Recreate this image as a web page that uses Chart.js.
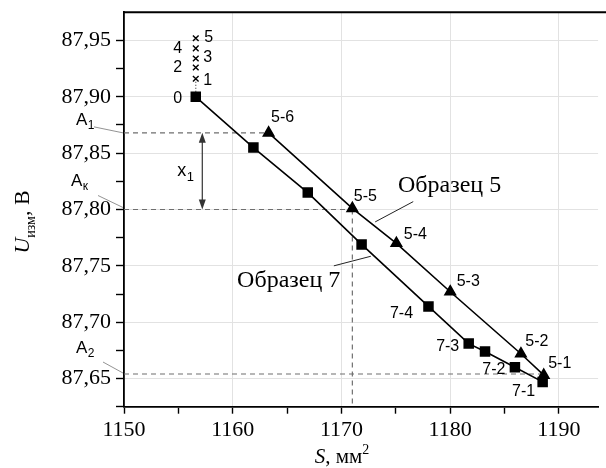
<!DOCTYPE html>
<html>
<head>
<meta charset="utf-8">
<script src="https://cdn.jsdelivr.net/npm/chart.js@4.4.0/dist/chart.umd.min.js"></script>
<style>
  html, body { margin: 0; padding: 0; background: #fff; }
  #wrap { width: 606px; height: 468px; }
</style>
</head>
<body>
<div id="wrap"><canvas id="chart" width="606" height="468"></canvas></div>
<script>
// Образец 7 (squares)
var s7x = [1156.6, 1161.9, 1166.9, 1171.85, 1178.0, 1181.7, 1183.2, 1185.95, 1188.5];
var s7y = [87.900, 87.855, 87.815, 87.769, 87.714, 87.681, 87.674, 87.660, 87.647];
var s7labels = ['0', '', '', '', '7-4', '7-3', '', '7-2', '7-1'];

// Образец 5 (triangles)
var s5x = [1163.3, 1171.0, 1175.05, 1180.0, 1186.5, 1188.6];
var s5y = [87.868, 87.801, 87.770, 87.727, 87.672, 87.653];
var s5labels = ['5-6', '5-5', '5-4', '5-3', '5-2', '5-1'];

// crosses 1..5
var crossX = [1156.6, 1156.6, 1156.6, 1156.6, 1156.6];
var crossY = [87.916, 87.926, 87.934, 87.943, 87.952];
var crossLabels = ['1', '2', '3', '4', '5'];

// reference levels
var levelA1 = 87.868;
var levelAk = 87.80;
var levelA2 = 87.654;
var sK = 1171.0;
var arrowX = 1157.2;

// axes
var xMajor = [1150, 1160, 1170, 1180, 1190];
var yMajor = [87.65, 87.70, 87.75, 87.80, 87.85, 87.90, 87.95];
var xMin = 1150, xMax = 1193.6, yMin = 87.625, yMax = 87.975;

// label offsets (px) relative to the marker
var s7off = [[-18, 2], null, null, null, [-27, 7], [-21, 3], null, [-21, 2], [-19, 10]];
var s5off = [[14, -15], [13, -12], [19, -9], [18, -10], [16, -12], [16, -12]];
var crossOff = [[12, 2], [-18, 0], [12, -1], [-18, 0], [13, -1]];

var SERIF = "'Liberation Serif', 'Times New Roman', serif";
var SANS = "'Liberation Sans', Arial, sans-serif";

var pts = function (xs, ys) {
  return xs.map(function (x, i) { return { x: x, y: ys[i] }; });
};
var isMajor = function (list, v) {
  return list.some(function (m) { return Math.abs(m - v) < 1e-6; });
};
// majors plus the half-way minor ticks, kept inside [lo, hi]
var withMinors = function (list, half, lo, hi) {
  var out = [];
  list.forEach(function (m) { out.push(m - half, m, m + half); });
  out = out.filter(function (v) { return v >= lo - 1e-9 && v <= hi + 1e-9; });
  out.sort(function (a, b) { return a - b; });
  return out.filter(function (v, i) { return i === 0 || Math.abs(v - out[i - 1]) > 1e-9; });
};

var dash = { showLine: true, borderColor: '#6f6f6f', borderWidth: 1.2, borderDash: [5, 4], pointRadius: 0 };

var annotations = {
  id: 'annotations',
  afterDatasetsDraw: function (chart) {
    var ctx = chart.ctx;
    var xs = chart.scales.x, ys = chart.scales.y;
    var area = chart.chartArea;
    var px = function (x) { return xs.getPixelForValue(x); };
    var py = function (y) { return ys.getPixelForValue(y); };

    ctx.save();
    // top frame line
    ctx.strokeStyle = '#000';
    ctx.lineWidth = 2;
    ctx.beginPath();
    ctx.moveTo(area.left, area.top);
    ctx.lineTo(chart.width, area.top);
    ctx.stroke();

    // point labels
    ctx.fillStyle = '#000';
    ctx.font = '16px ' + SANS;
    ctx.textAlign = 'center';
    ctx.textBaseline = 'middle';
    var drawLabels = function (idx, labels, offs) {
      var meta = chart.getDatasetMeta(idx);
      labels.forEach(function (t, i) {
        if (!t || !offs[i]) return;
        var el = meta.data[i];
        ctx.fillText(t, el.x + offs[i][0], el.y + offs[i][1]);
      });
    };
    drawLabels(0, s5labels, s5off);
    drawLabels(1, s7labels, s7off);
    drawLabels(2, crossLabels, crossOff);

    // double arrow x1
    var ax = px(arrowX), y1 = py(levelA1), y2 = py(levelAk);
    ctx.strokeStyle = '#333';
    ctx.fillStyle = '#333';
    ctx.lineWidth = 1.2;
    ctx.beginPath();
    ctx.moveTo(ax, y1 + 6);
    ctx.lineTo(ax, y2 - 6);
    ctx.stroke();
    ctx.beginPath();
    ctx.moveTo(ax, y1); ctx.lineTo(ax - 3.5, y1 + 10); ctx.lineTo(ax + 3.5, y1 + 10); ctx.closePath();
    ctx.fill();
    ctx.beginPath();
    ctx.moveTo(ax, y2); ctx.lineTo(ax - 3.5, y2 - 10); ctx.lineTo(ax + 3.5, y2 - 10); ctx.closePath();
    ctx.fill();

    // text with subscript
    var subText = function (base, sub, x, y, size, subSize, family, drop) {
      ctx.textAlign = 'left';
      ctx.textBaseline = 'alphabetic';
      ctx.font = size + 'px ' + family;
      ctx.fillText(base, x, y);
      var w = ctx.measureText(base).width;
      ctx.font = subSize + 'px ' + family;
      ctx.fillText(sub, x + w + 0.5, y + drop);
    };
    ctx.fillStyle = '#000';
    subText('x', '1', ax - 25, (y1 + y2) / 2 + 5, 18, 13, SANS, 5);

    // A labels with leader lines
    ctx.strokeStyle = '#777';
    ctx.lineWidth = 0.8;
    var leader = function (x0, y0, x1, y1b) {
      ctx.beginPath();
      ctx.moveTo(x0, y0);
      ctx.lineTo(x1, y1b);
      ctx.stroke();
    };
    leader(94, py(levelA1) - 6, area.left - 1, py(levelA1));
    leader(98, py(levelAk) - 14, area.left - 1, py(levelAk) - 2);
    leader(103, py(levelA2) - 12, area.left - 1, py(levelA2) - 1);
    ctx.fillStyle = '#000';
    subText('A', '1', 76, py(levelA1) - 8, 17, 12, SANS, 4);
    subText('A', 'к', 71, py(levelAk) - 24, 17, 12, SANS, 4);
    subText('A', '2', 76, py(levelA2) - 21, 17, 12, SANS, 4);

    // sample names with leaders
    ctx.strokeStyle = '#222';
    ctx.lineWidth = 1;
    leader(px(1176.6), py(87.807), px(1173.1), py(87.789));
    leader(px(1169.3), py(87.750), px(1172.7), py(87.7585));
    ctx.font = '24px ' + SERIF;
    ctx.textAlign = 'left';
    ctx.textBaseline = 'middle';
    ctx.fillText('Образец 5', px(1175.2), py(87.8215));
    ctx.fillText('Образец 7', px(1160.4), py(87.737));
    ctx.restore();
  },
  afterDraw: function (chart) {
    var ctx = chart.ctx;
    ctx.save();
    ctx.fillStyle = '#000';
    ctx.textBaseline = 'alphabetic';
    ctx.textAlign = 'left';

    // y title: U_изм, В
    ctx.translate(29, 222);
    ctx.rotate(-Math.PI / 2);
    var parts = [
      { t: 'U', f: 'italic 22px ' + SERIF, dy: 0 },
      { t: 'изм', f: '14px ' + SERIF, dy: 6 },
      { t: ', В', f: '22px ' + SERIF, dy: 0 }
    ];
    var total = 0;
    parts.forEach(function (p) { ctx.font = p.f; p.w = ctx.measureText(p.t).width; total += p.w; });
    var x = -total / 2;
    parts.forEach(function (p) { ctx.font = p.f; ctx.fillText(p.t, x, p.dy); x += p.w; });
    ctx.setTransform(1, 0, 0, 1, 0, 0);

    // x title: S, мм²
    var xp = [
      { t: 'S', f: 'italic 21px ' + SERIF, dy: 0 },
      { t: ', мм', f: '21px ' + SERIF, dy: 0 },
      { t: '2', f: '14px ' + SERIF, dy: -9 }
    ];
    total = 0;
    xp.forEach(function (p) { ctx.font = p.f; p.w = ctx.measureText(p.t).width; total += p.w; });
    x = 342 - total / 2;
    xp.forEach(function (p) { ctx.font = p.f; ctx.fillText(p.t, x, 463 + p.dy); x += p.w; });
    ctx.restore();
  }
};

new Chart(document.getElementById('chart').getContext('2d'), {
  type: 'scatter',
  data: {
    datasets: [
      {
        data: pts(s5x, s5y), showLine: true, borderColor: '#000', borderWidth: 1.6,
        pointStyle: 'triangle', pointRadius: 6, pointBackgroundColor: '#000', pointBorderColor: '#000'
      },
      {
        data: pts(s7x, s7y), showLine: true, borderColor: '#000', borderWidth: 1.6,
        pointStyle: 'rect', pointRadius: 6.3, pointBackgroundColor: '#000', pointBorderColor: '#000'
      },
      {
        data: pts(crossX, crossY), showLine: false,
        pointStyle: 'crossRot', pointRadius: 4, pointBorderWidth: 1.4, pointBorderColor: '#000'
      },
      Object.assign({}, dash, { data: [{ x: crossX[0], y: crossY[0] }, { x: s7x[0], y: s7y[0] }], borderDash: [1, 2], borderColor: '#444' }),
      Object.assign({}, dash, { data: [{ x: xMin, y: levelA1 }, { x: s5x[0], y: levelA1 }] }),
      Object.assign({}, dash, { data: [{ x: xMin, y: levelAk }, { x: s5x[1], y: levelAk }] }),
      Object.assign({}, dash, { data: [{ x: xMin, y: levelA2 }, { x: s5x[5], y: levelA2 }] }),
      Object.assign({}, dash, { data: [{ x: sK, y: levelAk }, { x: sK, y: yMin }] })
    ]
  },
  options: {
    responsive: false,
    animation: false,
    layout: { padding: { top: 12.3, right: 0, left: 0, bottom: 0 } },
    plugins: { legend: { display: false }, tooltip: { enabled: false } },
    scales: {
      x: {
        type: 'linear', min: xMin, max: xMax,
        afterBuildTicks: function (s) {
          s.ticks = withMinors(xMajor, 5, xMin, xMax).map(function (v) { return { value: v }; });
        },
        afterFit: function (s) { s.height = 61.3; s.paddingLeft = 0; s.paddingRight = 0; },
        border: { display: true, color: '#000', width: 1.8 },
        grid: {
          color: function (c) { return isMajor(xMajor, c.tick.value) ? '#e2e2e2' : 'rgba(0,0,0,0)'; },
          tickColor: '#000',
          tickLength: 7, tickWidth: 1.4
        },
        ticks: {
          autoSkip: false, maxRotation: 0, color: '#000', padding: 3,
          font: { family: SERIF, size: 22 },
          callback: function (v) { return isMajor(xMajor, v) ? String(v) : ''; }
        }
      },
      y: {
        type: 'linear', min: yMin, max: yMax,
        afterBuildTicks: function (s) {
          s.ticks = withMinors(yMajor, 0.025, yMin, yMax - 0.01).map(function (v) { return { value: v }; });
        },
        afterFit: function (s) { s.width = 124; s.paddingTop = 0; s.paddingBottom = 0; },
        border: { display: true, color: '#000', width: 1.8 },
        grid: {
          color: function (c) { return isMajor(yMajor, c.tick.value) ? '#e2e2e2' : 'rgba(0,0,0,0)'; },
          tickColor: '#000',
          tickLength: 8, tickWidth: 1.4
        },
        ticks: {
          autoSkip: false, color: '#000', padding: 5,
          font: { family: SERIF, size: 22 },
          callback: function (v) { return isMajor(yMajor, v) ? v.toFixed(2).replace('.', ',') : ''; }
        }
      }
    }
  },
  plugins: [annotations]
});
</script>
</body>
</html>
